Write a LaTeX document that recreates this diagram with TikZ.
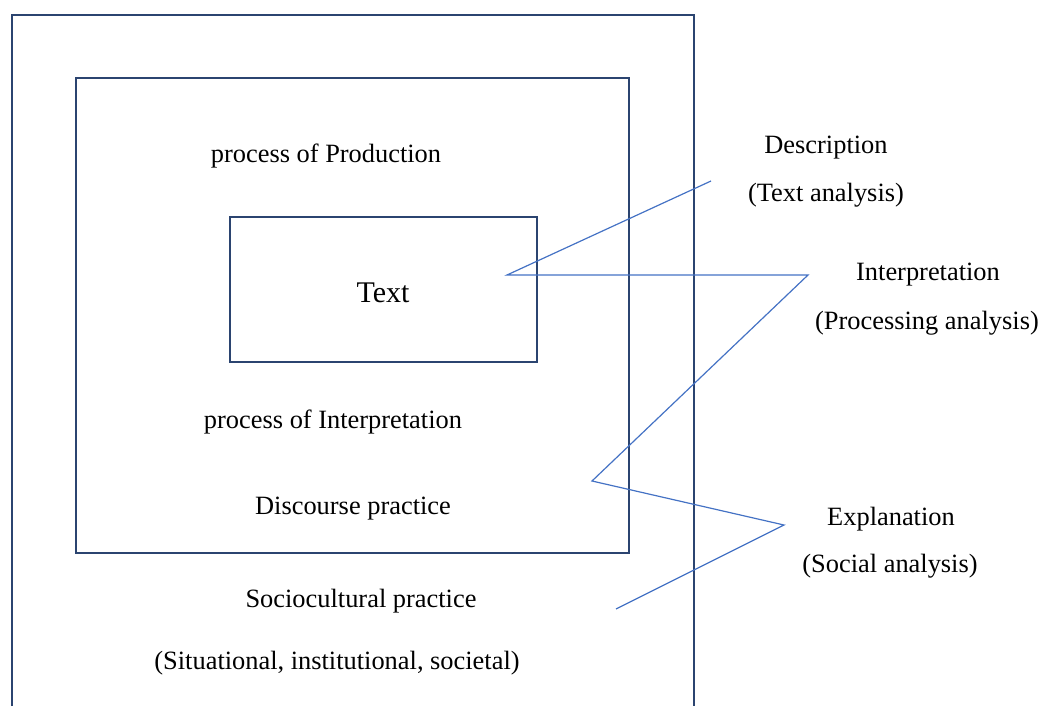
\documentclass[tikz,border=0pt]{standalone}
\usepackage{fontspec}
\setmainfont{Liberation Serif}
\usepackage{tikz}
\usetikzlibrary{positioning}
\definecolor{boxblue}{HTML}{2B4470}
\definecolor{lineblue}{HTML}{4472C4}

\begin{document}
\begin{tikzpicture}[x=0.75pt,y=-0.75pt,
                box/.style={draw=boxblue,line width=1.9pt},
                link/.style={draw=lineblue,line width=0.9pt},
                lbl/.style={anchor=base,inner sep=0pt,font=\fontsize{19.8}{24}\selectfont}]
                 \useasboundingbox (0,0) rectangle (1041,706);
                 \draw[box] (12,706) -- (12,15) -- (694,15) -- (694,706);
                 \draw[box] (76,78) rectangle (629,553);
                 \draw[box] (230,217) rectangle (537,362);
                 \node[lbl] (prod) at (326,162) {process of Production};
                 \node[lbl,font=\fontsize{22.5}{27}\selectfont] (text) at (383,302) {Text};
                 \node[lbl] (interp) at (333,428) {process of Interpretation};
                 \node[lbl] (disc) at (353,514) {Discourse practice};
                 \node[lbl] (socio) at (361,607) {Sociocultural practice};
                 \node[lbl] (situ) at (337,669) {(Situational, institutional, societal)};
                 \node[lbl] (descr) at (826,153) {Description};
                 \node[lbl] (descra) at (826,201) {(Text analysis)};
                 \node[lbl] (inter) at (928,280) {Interpretation};
                 \node[lbl] (intera) at (927,329) {(Processing analysis)};
                 \node[lbl] (expl) at (891,525) {Explanation};
                 \node[lbl] (expla) at (890,572) {(Social analysis)};
                 \coordinate (z1) at (711,181);
                 \coordinate (z2) at (507,275);
                 \coordinate (z3) at (808,275);
                 \coordinate (z4) at (592,481);
                 \coordinate (z5) at (784,525);
                 \coordinate (z6) at (616,609);
                 \draw[link] (z1) -- (z2) -- (z3) -- (z4) -- (z5) -- (z6);
            \end{tikzpicture}
\end{document}
